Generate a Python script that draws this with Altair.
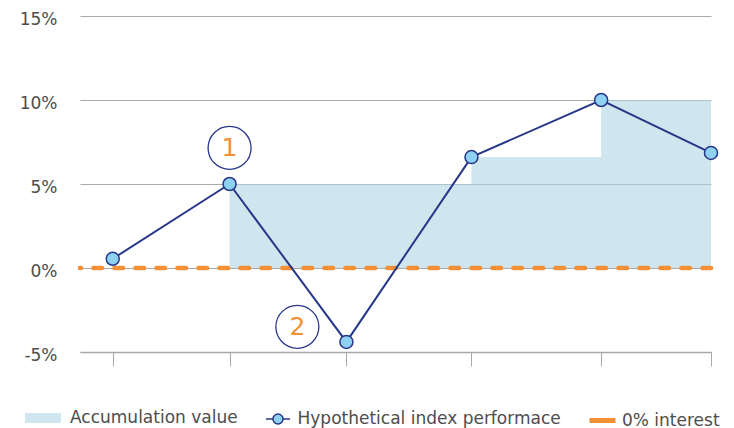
import altair as alt
import pandas as pd

# ---- data ----
periods = [0.28, 1.28, 2.28, 3.35, 4.46, 5.4]
index_perf = [0.55, 5.0, -4.4, 6.6, 10.0, 6.85]
acc_periods = [1.28, 3.35, 4.46, 5.4]
acc_values = [5.0, 6.6, 10.0, 10.0]
y_ticks = [-5, 0, 5, 10, 15]
series_names = ["Accumulation value", "Hypothetical index performace", "0% interest"]
note_labels = ["1", "2"]
note_x = [1.28, 1.86]
note_y = [7.15, -3.5]

NAVY = "#27378a"
LIGHT = "#8fd1f1"
AREA = "#afd5e3"
ORANGE = "#f39035"
GRID = "#a9a9a9"
TEXT = "#4d4d4d"
FONT = "DejaVu Sans"

perf_df = pd.DataFrame({"x": periods, "v": index_perf, "s": series_names[1]})
acc_df = pd.DataFrame({"x": acc_periods, "v": acc_values, "s": series_names[0]})
zero_df = pd.DataFrame({"s": [series_names[2]]})
note_df = pd.DataFrame({"x": note_x, "v": note_y, "t": note_labels})

X = alt.X("x:Q", scale=alt.Scale(domain=[0, 5.4], nice=False, zero=False),
          axis=alt.Axis(values=periods, labels=False, title=None, grid=False,
                        tickSize=14, tickColor=GRID, domainColor=GRID,
                        tickWidth=1, domainWidth=1.5))
Y = alt.Y("v:Q", scale=alt.Scale(domain=[-5, 15], nice=False),
          axis=alt.Axis(values=y_ticks, labelExpr="datum.value + '%'", title=None,
                        domain=False, ticks=False, grid=True, gridColor=GRID,
                        gridWidth=1.2, labelFontSize=17, labelColor=TEXT,
                        labelFont=FONT, labelPadding=23, labelOffset=3))

leg_common = dict(title=None, orient="none", labelFontSize=17, labelColor=TEXT,
                  labelFont=FONT, padding=0, labelLimit=400)

area = alt.Chart(acc_df).mark_area(interpolate="step-after", opacity=0.6).encode(
    x=X, y=Y, y2=alt.datum(0),
    fill=alt.Fill("s:N", scale=alt.Scale(domain=[series_names[0]], range=[AREA]),
                  legend=alt.Legend(legendX=-55, legendY=384,
                                    symbolType="M-1,-0.278H1V0.278H-1Z",
                                    symbolSize=1296, symbolStrokeWidth=0,
                                    labelOffset=9, **leg_common)))

line = alt.Chart(perf_df).mark_line(color=NAVY, strokeWidth=2).encode(x=X, y=Y)

pts = alt.Chart(perf_df).mark_point(shape="circle", filled=True, size=169,
                                    stroke=NAVY, strokeWidth=1.5, opacity=1).encode(
    x=X, y=Y,
    fill=alt.Fill("s:N", scale=alt.Scale(domain=[series_names[1]], range=[LIGHT]),
                  legend=alt.Legend(legendX=185, legendY=390,
                                    symbolType="M-1,0H-0.42M0.42,0H1M0.42,0A0.42,0.42 0 1,1 -0.42,0A0.42,0.42 0 1,1 0.42,0Z",
                                    symbolSize=576, symbolStrokeWidth=1.5,
                                    labelOffset=6.5, **leg_common)))

zero = alt.Chart(zero_df).mark_rule(strokeWidth=4.6, strokeDash=[8.5, 12.5],
                                    strokeCap="round").encode(
    y=alt.datum(0),
    stroke=alt.Stroke("s:N", scale=alt.Scale(domain=[series_names[2]], range=[ORANGE]),
                      legend=alt.Legend(legendX=507, legendY=389,
                                        symbolType="M-1,0H1", symbolSize=676,
                                        symbolStrokeWidth=5, symbolDash=[1, 0],
                                        labelOffset=4, **leg_common)))

rings = alt.Chart(note_df).mark_point(shape="circle", filled=False, size=1849,
                                      stroke=NAVY, strokeWidth=1.3, opacity=1).encode(x=X, y=Y)
nums = alt.Chart(note_df).mark_text(color=ORANGE, fontSize=25, font=FONT,
                                    baseline="middle", align="center").encode(
    x=X, y=Y, text="t:N")

chart = alt.layer(area, zero, line, pts, rings, nums).resolve_scale(
    fill="independent").resolve_legend(fill="independent").properties(
    width=631, height=336,
    autosize=alt.AutoSizeParams(type="none"),
    padding={"left": 72, "top": 8, "right": 15, "bottom": 76},
).configure_view(stroke=None)

chart.save("out.html", embed_options={"renderer": "svg", "actions": False})
